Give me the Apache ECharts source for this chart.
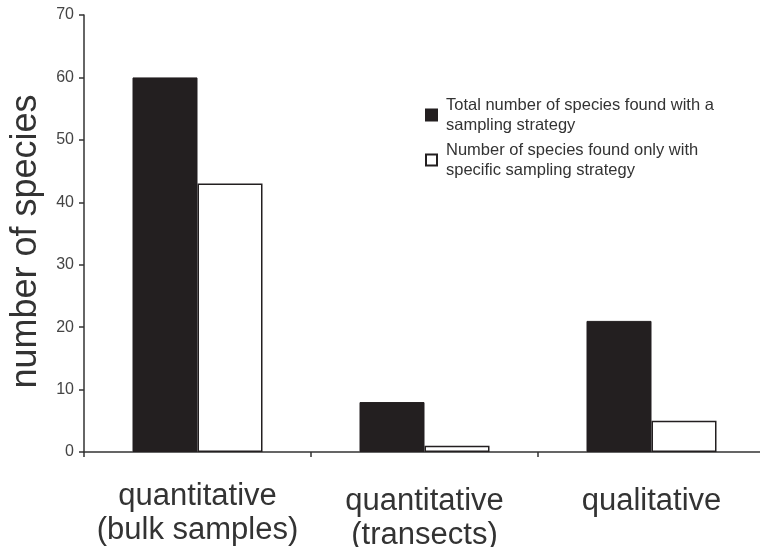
<!DOCTYPE html>
<html><head><meta charset="utf-8">
<script src="https://cdn.jsdelivr.net/npm/echarts@6/dist/echarts.min.js"></script>
<style>html,body{margin:0;padding:0;background:#fff}#c{width:760px;height:547px}</style>
</head><body><div id="c"></div>
<script>
const categories = ['quantitative\n(bulk samples)', 'quantitative\n(transects)', 'qualitative'];
const totalSpecies = [60, 8, 21];
const onlySpecies = [43, 1, 5];
const seriesNames = ['Total number of species found with a\nsampling strategy', 'Number of species found only with\nspecific sampling strategy'];
const yTicks = {min: 0, max: 70, interval: 10};

const labelShift = [0, 5, 5];
const chart = echarts.init(document.getElementById('c'));
chart.setOption({
  animation: false,
  grid: {left: 84, top: 15, width: 681, bottom: 95, containLabel: false, outerBoundsMode: 'none'},
  legend: {
    orient: 'vertical', left: 420, top: 90, itemWidth: 11, itemHeight: 11, itemGap: 5,
    icon: 'rect',
    textStyle: {fontFamily: 'Liberation Sans, Arial', fontSize: 16.5, color: '#333', lineHeight: 20, padding: [0, 0, 0, 4]},
    data: seriesNames
  },
  xAxis: {
    type: 'category',
    data: categories.map((c, i) => ({value: c, textStyle: {padding: [labelShift[i], 0, 0, 0]}})),
    axisLine: {lineStyle: {color: '#333', width: 1.5}},
    axisTick: {show: true, interval: 0, length: 5, lineStyle: {color: '#333', width: 1.5}},
    axisLabel: {interval: 0, hideOverlap: false, fontFamily: 'Liberation Sans, Arial', fontSize: 31, color: '#333', lineHeight: 34, margin: 27}
  },
  yAxis: {
    type: 'value', min: yTicks.min, max: yTicks.max, interval: yTicks.interval,
    name: 'number of species', nameLocation: 'middle', nameGap: 40,
    nameTextStyle: {fontFamily: 'Liberation Sans, Arial', fontSize: 36, color: '#333', padding: [0, 16, 0, 0]},
    splitLine: {show: false},
    axisLine: {show: true, lineStyle: {color: '#333', width: 1.5}},
    axisTick: {show: true, length: 5, lineStyle: {color: '#333', width: 1.5}},
    axisLabel: {fontFamily: 'Liberation Sans, Arial', fontSize: 16, color: '#444', margin: 10}
  },
  series: [
    {name: seriesNames[0], type: 'bar', data: totalSpecies, barWidth: 65, barGap: '0%',
     itemStyle: {color: '#231f20', borderColor: '#231f20', borderWidth: 1}},
    {name: seriesNames[1], type: 'bar', data: onlySpecies, barWidth: 65,
     itemStyle: {color: '#ffffff', borderColor: '#231f20', borderWidth: 1.5}}
  ]
});
</script></body></html>
